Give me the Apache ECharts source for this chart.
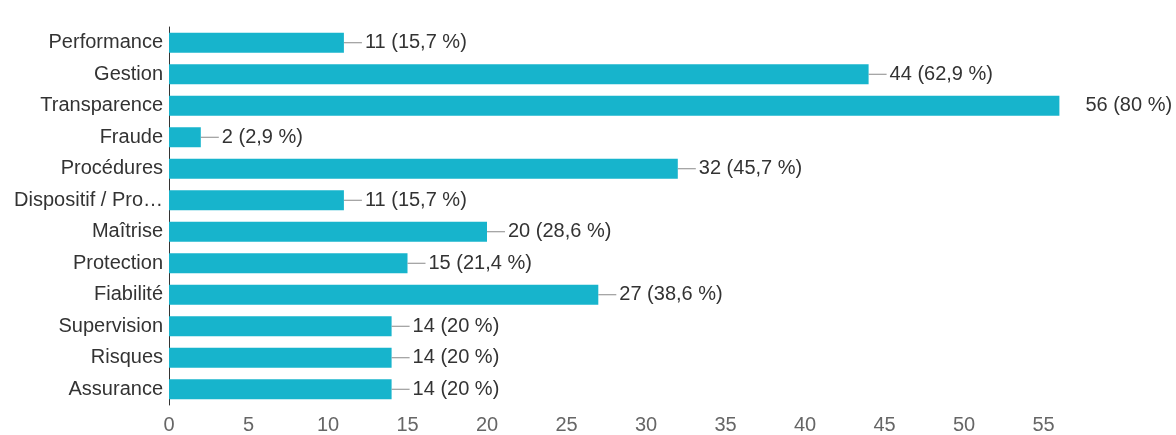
<!DOCTYPE html>
<html>
<head>
<meta charset="utf-8">
<script src="https://cdn.jsdelivr.net/npm/echarts@6/dist/echarts.min.js"></script>
<style>
html,body{margin:0;padding:0;background:#fff;}
#chart{width:1176px;height:435px;}
</style>
</head>
<body>
<div id="chart"></div>
<script>
var categories = ['Performance','Gestion','Transparence','Fraude','Procédures','Dispositif / Pro…','Maîtrise','Protection','Fiabilité','Supervision','Risques','Assurance'];
var counts = [11,44,56,2,32,11,20,15,27,14,14,14];
var percents = ['15,7','62,9','80','2,9','45,7','15,7','28,6','21,4','38,6','20','20','20'];
var tickLabels = ['0','5','10','15','20','25','30','35','40','45','50','55'];

var maxCount = Math.max.apply(null, counts);
var chart = echarts.init(document.getElementById('chart'), null, {renderer:'canvas'});
var FONT = '"Liberation Sans", Arial, sans-serif';
chart.setOption({
  animation:false,
  backgroundColor:'#ffffff',
  grid:{left:169, right:53, top:27, bottom:28, containLabel:false},
  xAxis:{
    type:'value', min:0, max:60, interval:5,
    axisLine:{show:false}, axisTick:{show:false}, splitLine:{show:false},
    axisLabel:{
      color:'#666', fontSize:20, fontFamily:FONT, margin:10, showMaxLabel:false,
      formatter:function(v){ var s=String(v); return tickLabels.indexOf(s)>=0 ? s : ''; }
    }
  },
  yAxis:{
    type:'category', data:categories, inverse:true,
    axisLine:{show:true, lineStyle:{color:'#333', width:1}},
    axisTick:{show:false},
    axisLabel:{color:'#333', fontSize:20, fontFamily:FONT, margin:6}
  },
  series:[{
    type:'bar',
    data:counts,
    barWidth:20,
    itemStyle:{color:'#17b4cc'},
    label:{
      show:true, position:'right', distance:0,
      fontFamily:FONT, fontSize:20, color:'#333',
      formatter:function(p){
        var txt = counts[p.dataIndex] + ' (' + percents[p.dataIndex] + ' %)';
        if (counts[p.dataIndex] === maxCount) return '{gap|}{t|' + txt + '}';
        return '{line|}{t|' + txt + '}';
      },
      rich:{
        line:{width:18, height:1, backgroundColor:'#888'},
        gap:{width:23, height:1},
        t:{color:'#333', fontSize:20, fontFamily:FONT, padding:[0,0,0,3]}
      }
    }
  }]
});
</script>
</body>
</html>
